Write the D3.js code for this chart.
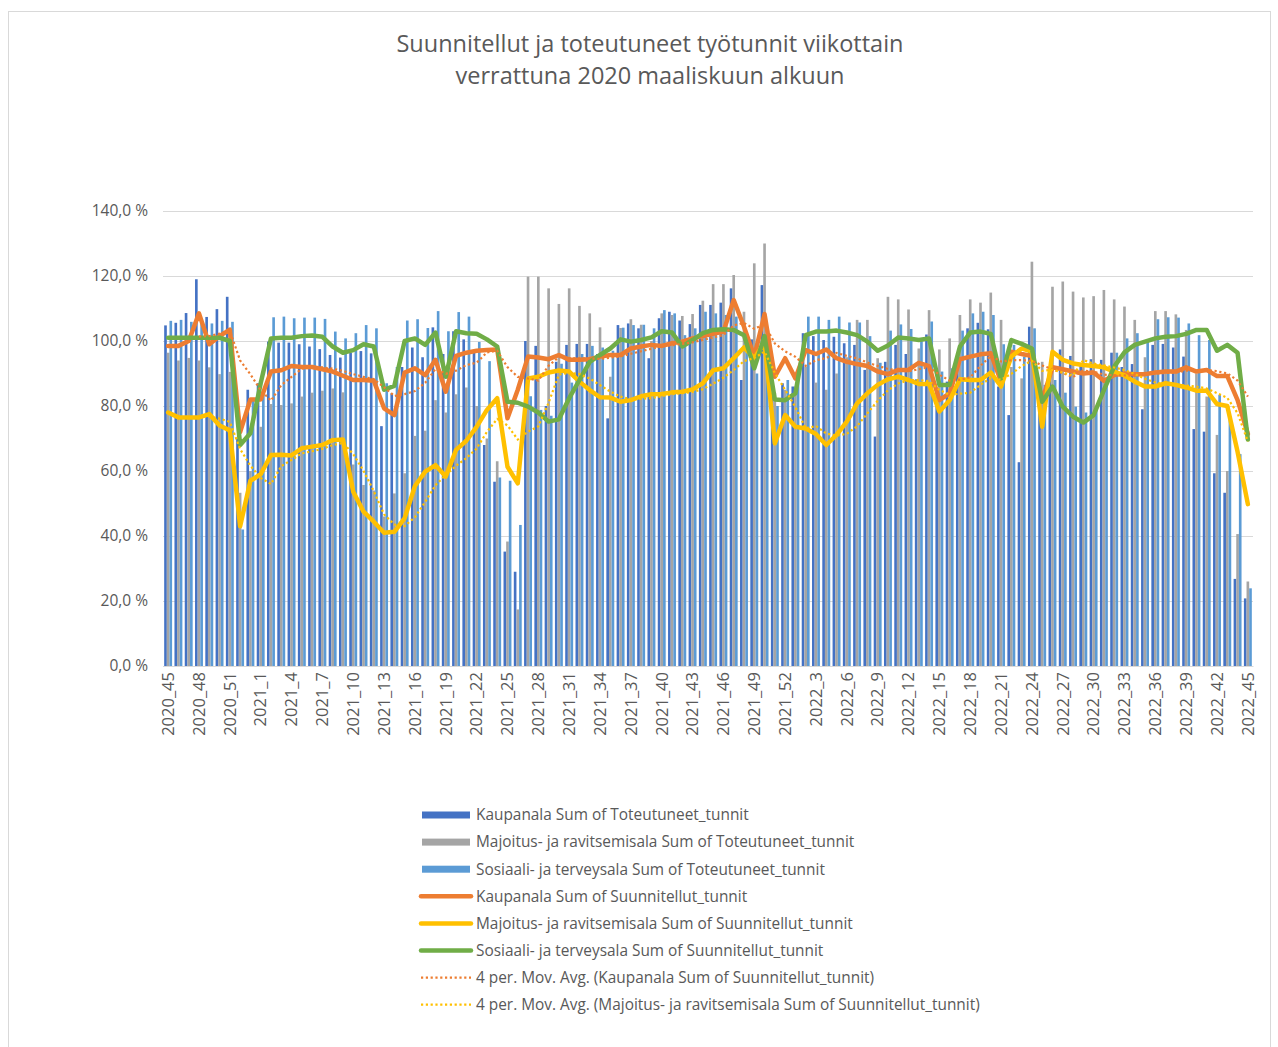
<!DOCTYPE html>
<html>
<head>
<meta charset="utf-8">
<script src="https://cdnjs.cloudflare.com/ajax/libs/d3/7.8.5/d3.min.js"></script>
<style>
  body { margin: 0; background: #fff; }
  text { font-family: "Open Sans", sans-serif; fill: #595959; }
</style>
</head>
<body>
<div id="chart"></div>
<script>
// categories (ISO weeks)
var weeks = ["2020_45","2020_46","2020_47","2020_48","2020_49","2020_50","2020_51","2020_52","2020_53",
  "2021_1","2021_2","2021_3","2021_4","2021_5","2021_6","2021_7","2021_8","2021_9","2021_10",
  "2021_11","2021_12","2021_13","2021_14","2021_15","2021_16","2021_17","2021_18","2021_19","2021_20",
  "2021_21","2021_22","2021_23","2021_24","2021_25","2021_26","2021_27","2021_28","2021_29","2021_30",
  "2021_31","2021_32","2021_33","2021_34","2021_35","2021_36","2021_37","2021_38","2021_39","2021_40",
  "2021_41","2021_42","2021_43","2021_44","2021_45","2021_46","2021_47","2021_48","2021_49","2021_50",
  "2021_51","2021_52",
  "2022_1","2022_2","2022_3","2022_4","2022_5","2022_6","2022_7","2022_8","2022_9","2022_10",
  "2022_11","2022_12","2022_13","2022_14","2022_15","2022_16","2022_17","2022_18","2022_19","2022_20",
  "2022_21","2022_22","2022_23","2022_24","2022_25","2022_26","2022_27","2022_28","2022_29","2022_30",
  "2022_31","2022_32","2022_33","2022_34","2022_35","2022_36","2022_37","2022_38","2022_39","2022_40",
  "2022_41","2022_42","2022_43","2022_44","2022_45"];

// Toteutuneet (bars), % of March 2020
var kaupToteut = [104.8,105.6,108.6,119,107.4,109.8,113.6,70,85,87,
  99.8,99.5,99.5,99,98.3,97.5,95.7,94.9,96.4,96.9,
  96.2,73.8,83.9,92,98,95,104.2,96,103,100.5,
  97,68,56.7,35.2,29,100,98.5,80,93.6,98.8,
  99.1,99.1,96,76.2,104.9,105.4,103.9,94.7,107,109,
  106.3,105.2,111.1,111.1,111.8,116.2,88,100.5,117.2,84,
  87,86,102.4,101.5,100.3,101.3,99.3,98.8,91.1,70.6,
  93.6,98.8,96,88.2,102,84,87.5,95,103.9,105.6,
  103.6,86,77.2,62.7,104.4,82,90,97.4,95.4,93,
  94.4,94.2,96.4,92,92.9,79,98.8,99.1,98,95.2,
  72.9,72.1,59.3,53.3,26.8,20.8];

var majToteut = [96.4,94,94.8,94,91.9,89.8,90.5,53.3,60,73.6,
  80.6,80.3,80.8,82.9,84.1,84.7,85.4,84.2,62,55.7,
  54,46,53.1,59.3,70.8,72.4,81.8,78,83.6,85.7,
  80,70,63,38.3,17.4,119.8,119.8,116.2,111.4,116.2,
  110.8,108.5,104.2,89,104,106.7,105,100,108.5,108,
  107.7,108.3,112.4,117.5,117.5,120.3,109,123.9,130,84,
  85,86,92,87.2,85,90,95,106.5,106.5,94.7,
  113.6,112.8,109.7,97.7,109.5,97.4,100.8,108,112.8,111.8,
  114.9,106.5,92,88.5,124.4,93.6,116.7,118.3,115.2,113.4,
  113.8,115.7,112.8,110.6,106.5,95,109.2,109.2,108.2,103.4,
  90,82.9,71.1,60,40.6,26];

var sosToteut = [106.2,106.5,105.9,105.9,105.4,106.2,105.9,42,82,85,
  107.3,107.5,107,107.2,107.2,106.8,102.9,100.8,102.4,104.9,
  103.9,87,92,106.3,106.7,104,109.2,103,108.9,107.5,
  99.7,93.8,58,57,43.4,83,78.8,77,93,87.2,
  96,98.5,98,97,104.1,104.9,105,103.9,109.5,108.5,
  101.8,103.9,109,108.5,108,107.5,100,90,96,80,
  88,90,107.5,107.5,106.5,107.5,105.7,105.7,101.5,93.3,
  103.2,105.1,103.7,100,106,90.6,91.6,103.2,108.5,109,
  108,99,98.8,95.2,103.9,86.5,88,84.1,79.8,78,
  80,88,96.4,100.8,102.4,99.8,106.7,107.3,107.2,105.4,
  101.8,100.3,83.4,76.7,65.2,23.9];

// Suunnitellut (lines)
var kaupSuunn = [98.5,98.5,100,108.5,99,101.5,103.5,72,82,82,
  90.6,91,92.3,92,92,91.3,90.6,89.3,88,88,
  87.8,79.3,77.2,90.3,91.6,89.5,94.2,84.4,95.4,96.4,
  97,97.2,97.4,76.2,85,95.2,94.9,94.4,95.7,94.2,
  94.2,94.4,95.2,95.7,95.7,97.7,98.3,98.8,98.5,99.3,
  99.8,100.8,101.5,102.2,102.9,112.6,104.4,95.2,108.3,89,
  94.7,88.5,97.2,96,97.4,94.7,93.6,92.9,92.3,90.6,
  89.8,91.1,91.1,93.3,92.3,81.8,83.9,94.4,95.2,95.9,
  96.2,87.5,96.7,96,95.4,81.8,91.9,91.3,90.6,90,
  90.3,87.8,89.5,90,89.8,89.8,90.3,90.6,90.6,91.9,
  90.6,91.1,89.2,89.2,81.8,71.4];

var majSuunn = [78,76.5,76.5,76.5,77.5,74,72.5,43,57,59,
  64.9,65,64.8,67,67.5,68,69.5,69.7,53.6,47.5,
  44.4,41,41.3,45.5,55.4,59.8,61.8,58.3,66.5,69.3,
  73.6,78.8,82.4,61.3,56.2,88.5,89,90.3,90.9,90.6,
  87.5,84.9,82.7,82.6,81.3,81.8,83,83.6,83.7,84.2,
  84.4,85.1,87,91,91.6,94.7,98,94.7,99.5,68.5,
  77.2,73.6,73.1,71.4,68,71.1,75.2,80.8,83.9,86.5,
  88.2,89,88,86.8,86.8,78.3,81.8,88.2,88,88,
  90.3,86,95.2,97.7,96.7,73.6,96.7,94.2,93.1,92.6,
  92.3,91.9,90.6,89.4,87.5,86,86,87,86.5,85.7,
  84.7,84.7,80.6,80,65.9,49.8];

var sosSuunn = [101,101,101,101,101,101,100,68,71.6,87,
  100.8,101,101,101.5,101.7,101.3,98.3,96.4,97.2,99,
  98.3,85,86.2,100,100.8,98.8,102.6,89,103,102.4,
  102.2,100.5,98.3,81.3,81,79.8,78,75.2,75.9,82.4,
  88,93.6,95.7,97.7,100.5,99.8,100.3,101.1,103,102.6,
  98.3,100.3,102.4,103.4,103.6,103.4,101.8,91.6,101.5,82,
  81.8,83.9,101.8,102.9,102.9,103.2,102.6,101.8,99.8,97,
  98.6,101.1,100.8,100.3,100.8,86.5,86.5,98.3,102.6,102.9,
  102.2,88.5,100.3,99.1,97.7,81.3,86,79.8,76.7,74.9,
  77.2,84.9,92.1,96.5,98.8,99.8,100.8,101.3,101.5,102.2,
  103.4,103.4,97,98.8,96.4,69.7];

var yTicks = [0, 20, 40, 60, 80, 100, 120, 140];

var barSeries = [
  { name: "Kaupanala Sum of Toteutuneet_tunnit", values: kaupToteut, color: "#4472C4" },
  { name: "Majoitus- ja ravitsemisala Sum of Toteutuneet_tunnit", values: majToteut, color: "#A5A5A5" },
  { name: "Sosiaali- ja terveysala Sum of Toteutuneet_tunnit", values: sosToteut, color: "#5B9BD5" }
];
var lineSeries = [
  { name: "Kaupanala Sum of Suunnitellut_tunnit", values: kaupSuunn, color: "#ED7D31" },
  { name: "Majoitus- ja ravitsemisala Sum of Suunnitellut_tunnit", values: majSuunn, color: "#FFC000" },
  { name: "Sosiaali- ja terveysala Sum of Suunnitellut_tunnit", values: sosSuunn, color: "#70AD47" }
];

// 4 period moving average, like the Excel trendline
function movAvg(values, n) {
  var out = [];
  for (var i = n - 1; i < values.length; i++) {
    out.push({ i: i, v: d3.mean(values.slice(i - n + 1, i + 1)) });
  }
  return out;
}
var trendSeries = [
  { name: "4 per. Mov. Avg. (Kaupanala Sum of Suunnitellut_tunnit)", values: movAvg(kaupSuunn, 4), color: "#ED7D31" },
  { name: "4 per. Mov. Avg. (Majoitus- ja ravitsemisala Sum of Suunnitellut_tunnit)", values: movAvg(majSuunn, 4), color: "#FFC000" }
];

var W = 1278, H = 1047;
var plot = { left: 163, right: 1253, top: 211, bottom: 666 };

var svg = d3.select("#chart")
  .append("svg")
  .attr("width", W)
  .attr("height", H);

// chart border
svg.append("rect")
  .attr("x", 8.5).attr("y", 11.5)
  .attr("width", 1262).attr("height", 1040)
  .attr("fill", "none")
  .attr("stroke", "#d9d9d9");

// title
svg.append("text")
  .attr("x", 650).attr("y", 52)
  .attr("text-anchor", "middle")
  .style("font-size", "23.5px")
  .text("Suunnitellut ja toteutuneet työtunnit viikottain");
svg.append("text")
  .attr("x", 650).attr("y", 84)
  .attr("text-anchor", "middle")
  .style("font-size", "23.5px")
  .text("verrattuna 2020 maaliskuun alkuun");

// scales
var x = d3.scaleBand()
  .domain(weeks)
  .range([plot.left, plot.right])
  .paddingInner(0.23)
  .paddingOuter(0.115);
var xSub = d3.scaleBand()
  .domain([0, 1, 2])
  .range([0, x.bandwidth()]);
var y = d3.scaleLinear()
  .domain([0, 140])
  .range([plot.bottom, plot.top]);

// Y axis + gridlines
var yAxis = svg.append("g")
  .attr("transform", "translate(" + plot.left + ",0)")
  .call(d3.axisLeft(y)
    .tickValues(yTicks)
    .tickSize(-(plot.right - plot.left))
    .tickPadding(15)
    .tickFormat(function (d) { return d.toFixed(1).replace(".", ",") + " %"; }));
yAxis.select(".domain").remove();
yAxis.selectAll("line").attr("stroke", "#d9d9d9");
yAxis.selectAll("text")
  .style("font-size", "15.5px")
  .style("fill", "#595959");

// X axis, every third week
var xAxis = svg.append("g")
  .attr("transform", "translate(0," + plot.bottom + ")")
  .call(d3.axisBottom(x)
    .tickValues(weeks.filter(function (d, i) { return i % 3 === 0; }))
    .tickSize(0));
xAxis.select(".domain").attr("stroke", "#d9d9d9");
xAxis.selectAll("text")
  .attr("transform", "rotate(-90)")
  .attr("text-anchor", "end")
  .attr("x", -6)
  .attr("y", 0)
  .attr("dy", "0.35em")
  .style("font-size", "16.5px")
  .style("fill", "#595959");

// bars
barSeries.forEach(function (s, k) {
  svg.append("g")
    .selectAll("rect")
    .data(s.values)
    .enter()
    .append("rect")
    .attr("x", function (d, i) { return x(weeks[i]) + xSub(k); })
    .attr("y", function (d) { return y(d); })
    .attr("width", xSub.bandwidth())
    .attr("height", function (d) { return y(0) - y(d); })
    .attr("fill", s.color);
});

// lines
var line = d3.line()
  .x(function (d, i) { return x(weeks[i]) + x.bandwidth() / 2; })
  .y(function (d) { return y(d); });

lineSeries.forEach(function (s) {
  svg.append("path")
    .datum(s.values)
    .attr("fill", "none")
    .attr("stroke", s.color)
    .attr("stroke-width", 4.5)
    .attr("stroke-linejoin", "round")
    .attr("stroke-linecap", "round")
    .attr("d", line);
});

// moving average trendlines
var trendLine = d3.line()
  .x(function (d) { return x(weeks[d.i]) + x.bandwidth() / 2; })
  .y(function (d) { return y(d.v); });

trendSeries.forEach(function (s) {
  svg.append("path")
    .datum(s.values)
    .attr("fill", "none")
    .attr("stroke", s.color)
    .attr("stroke-width", 2.2)
    .attr("stroke-dasharray", "2.2,2.6")
    .attr("d", trendLine);
});

// legend
var legend = svg.append("g").attr("transform", "translate(420,815)");
var rowH = 27.1;
var items = barSeries.map(function (s) { return { name: s.name, color: s.color, type: "bar" }; })
  .concat(lineSeries.map(function (s) { return { name: s.name, color: s.color, type: "line" }; }))
  .concat(trendSeries.map(function (s) { return { name: s.name, color: s.color, type: "dot" }; }));

items.forEach(function (it, i) {
  var g = legend.append("g").attr("transform", "translate(0," + (i * rowH) + ")");
  if (it.type === "bar") {
    g.append("rect")
      .attr("x", 2).attr("y", -3.5)
      .attr("width", 48).attr("height", 7)
      .attr("fill", it.color);
  } else if (it.type === "line") {
    g.append("line")
      .attr("x1", 1).attr("x2", 51)
      .attr("stroke", it.color)
      .attr("stroke-width", 4.5)
      .attr("stroke-linecap", "round");
  } else {
    g.append("line")
      .attr("x1", 1).attr("x2", 51)
      .attr("stroke", it.color)
      .attr("stroke-width", 2.2)
      .attr("stroke-dasharray", "2.2,2.6");
  }
  g.append("text")
    .attr("x", 56)
    .attr("dy", "0.35em")
    .style("font-size", "15.4px")
    .text(it.name);
});
</script>
</body>
</html>
